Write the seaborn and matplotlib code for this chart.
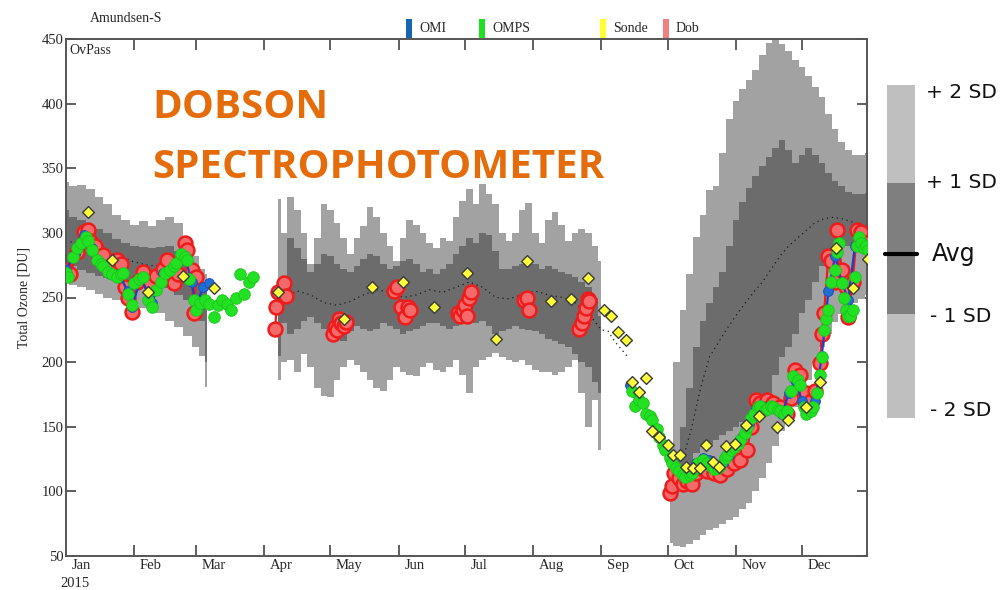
import numpy as np
import pandas as pd
import seaborn as sns
import matplotlib.pyplot as plt
from matplotlib.patches import Rectangle
from matplotlib.lines import Line2D

# ---- climatology bands (day of year, DU) ----
band_days_1 = [1, 4, 8, 12, 16, 20, 24, 28, 32, 36, 40, 44, 48, 52, 56, 60, 63, 65]
hi2_1 = [339, 336, 337, 334, 328, 322, 314, 310, 306, 309, 305, 310, 312, 308, 292, 282, 272, 268]
hi1_1 = [318, 312, 310, 306, 303, 300, 295, 292, 290, 289, 288, 289, 290, 286, 279, 272, 262, 258]
lo1_1 = [277, 274, 271, 269, 267, 265, 264, 263, 262, 261, 261, 260, 257, 252, 248, 242, 232, 200]
lo2_1 = [262, 260, 258, 256, 253, 250, 248, 247, 245, 242, 240, 238, 232, 227, 220, 212, 205, 181]

band_days_2 = np.arange(97, 245, 3)
hi2_2 = [326, 300, 328, 318, 300, 276, 296, 322, 318, 308, 296, 284, 296, 305, 320, 312, 300, 290,
         278, 296, 310, 306, 300, 292, 288, 296, 294, 312, 325, 334, 322, 338, 330, 322, 300, 294,
         300, 318, 323, 300, 292, 310, 316, 306, 294, 300, 303, 300, 290, 278]
hi1_2 = [262, 258, 296, 288, 280, 270, 276, 284, 282, 276, 272, 270, 274, 280, 284, 282, 276, 272,
         274, 278, 280, 276, 270, 272, 268, 272, 276, 284, 290, 296, 292, 300, 298, 286, 272, 272,
         274, 276, 278, 276, 272, 274, 272, 270, 268, 266, 262, 258, 250, 236]
lo1_2 = [205, 230, 222, 226, 232, 235, 230, 226, 222, 218, 216, 224, 228, 226, 224, 226, 230, 228,
         226, 222, 224, 226, 228, 230, 230, 228, 226, 228, 232, 234, 230, 232, 228, 222, 224, 226,
         228, 226, 225, 224, 222, 218, 216, 214, 212, 206, 200, 196, 185, 176]
lo2_2 = [186, 200, 202, 192, 206, 196, 180, 174, 173, 186, 196, 202, 198, 192, 186, 180, 178, 186,
         196, 192, 190, 189, 196, 199, 194, 192, 196, 202, 190, 176, 196, 202, 204, 207, 204, 202,
         200, 202, 198, 194, 192, 192, 190, 192, 196, 202, 176, 150, 171, 132]

band_days_3 = np.arange(275, 366, 3)
hi2_3 = [135, 200, 240, 268, 297, 314, 333, 336, 362, 388, 402, 411, 418, 426, 438, 447,
         449, 446, 441, 434, 428, 421, 413, 405, 392, 380, 370, 364, 360, 360, 362]
hi1_3 = [118, 130, 150, 180, 212, 232, 246, 258, 270, 290, 310, 324, 335, 344, 352, 359,
         366, 372, 364, 354, 360, 366, 360, 354, 346, 340, 336, 332, 330, 330, 331]
lo1_3 = [112, 110, 114, 120, 130, 134, 137, 140, 144, 147, 150, 154, 158, 162, 168, 176,
         190, 204, 212, 222, 238, 248, 262, 274, 282, 288, 291, 290, 288, 287, 287]
lo2_3 = [60, 58, 57, 59, 62, 66, 70, 72, 75, 78, 80, 86, 91, 100, 110, 122,
         135, 147, 156, 165, 176, 186, 199, 212, 222, 231, 237, 242, 246, 249, 252]

avg_days = [3, 10, 17, 24, 31, 38, 45, 52, 59,
            100, 106, 112, 118, 124, 130, 136, 142, 148, 154, 160, 166, 172, 178, 184, 190,
            196, 202, 208, 214, 220, 226, 232, 238, 244, 247, 250, 253, 256,
            281, 285, 289, 293, 297, 301, 305, 309, 313, 317, 321, 325, 329, 333, 337, 341,
            345, 349, 353, 357, 361, 364]
avg_vals = [293, 292, 287, 283, 278, 275, 274, 272, 263,
            250, 255, 252, 246, 244, 247, 252, 256, 254, 250, 252, 256, 254, 258, 262, 258,
            250, 249, 252, 255, 252, 250, 246, 238, 225, 224, 216, 210, 204,
            125, 150, 180, 204, 215, 226, 236, 245, 254, 262, 272, 282, 290, 296, 302, 308,
            311, 312, 311, 309, 306, 304]
avg_seg = [0] * 9 + [1] * 29 + [2] * 22

# ---- Dobson ----
dob_days = [1, 3, 6, 9, 11, 12, 14, 16, 18, 21, 24, 26, 28, 29, 31, 33, 36, 39, 42, 45, 47, 50,
            52, 55, 56, 58, 59, 60,
            96, 96.5, 97, 100, 101,
            122, 123, 124, 125, 126, 127, 128,
            150, 151, 153, 155, 156, 157,
            179, 180, 181, 182, 183, 184, 185,
            209, 210, 211,
            234, 235, 236, 237, 238, 238.5,
            275, 276, 277, 279, 281, 283, 285, 287, 289, 292, 295, 298, 301, 304, 307, 310,
            312, 314, 316, 319, 322, 325, 328, 330, 332, 334, 337, 339, 341, 343, 344, 345,
            347, 348, 350, 351, 353, 355, 356, 358, 360, 362, 364]
dob_vals = [271, 268, 285, 301, 302, 294, 290, 280, 283, 272, 279, 276, 258, 250, 239, 262, 270,
            262, 267, 272, 279, 261, 268, 292, 287, 271, 238, 266,
            226, 243, 254, 261, 251,
            222, 227, 225, 233, 230, 228, 231,
            255, 258, 243, 235, 243, 240,
            238, 236, 240, 244, 236, 250, 254,
            248, 250, 240,
            226, 230, 236, 242, 249, 247,
            99, 104, 114, 110, 106, 108, 106, 114, 118, 116, 114, 113, 117, 122, 124, 132,
            150, 171, 168, 171, 168, 165, 160, 172, 194, 190, 176, 170, 178, 199, 222, 238,
            282, 278, 262, 302, 271, 258, 235, 262, 302, 301, 292]
dob_grp = [0] * 28 + [1] * 5 + [2] * 7 + [3] * 6 + [4] * 7 + [5] * 3 + [6] * 6 + [7] * 43

# ---- OMPS ----
omps_days = [1, 2, 4, 6, 8, 10, 11, 13, 15, 17, 18, 20, 22, 24, 26, 27, 29, 31, 32, 34,
             36, 38, 40, 42, 44, 46, 48, 50, 51, 53, 55, 56, 57, 59, 60, 62, 64, 66, 68, 70,
             72, 74, 76, 78, 80, 82, 84, 86,
             258, 259, 261, 263, 264, 266, 267, 269, 270, 272, 273, 275, 276, 278, 279, 281,
             282, 284, 285, 287, 288, 290, 292, 294, 295, 297, 298, 300, 301, 303, 304, 306,
             307, 309, 310, 312, 313, 315, 316, 318, 319, 321, 322, 324, 325, 327, 328, 330,
             331, 333, 334, 336, 337, 339, 340, 342, 343, 344, 345, 346, 347, 348, 350, 351,
             352, 353, 354, 355, 356, 357, 358, 359, 360, 361, 362, 363, 364, 365]
omps_vals = [269, 266, 281, 288, 292, 297, 294, 287, 279, 276, 274, 270, 268, 266, 268, 269,
             253, 244, 261, 264, 266, 248, 243, 256, 262, 269, 271, 274, 277, 284, 281, 279,
             264, 248, 240, 246, 248, 245, 235, 244, 248, 245, 240, 250, 268, 253, 262, 266,
             178, 166, 171, 168, 160, 158, 155, 148, 142, 136, 132, 126, 122, 118, 116, 113,
             111, 113, 114, 118, 122, 124, 122, 119, 117, 118, 120, 126, 128, 132, 134, 137,
             140, 145, 150, 157, 160, 165, 166, 163, 164, 166, 165, 163, 162, 160, 162, 178,
             189, 186, 182, 165, 160, 162, 165, 176, 190, 204, 225, 233, 240, 262, 271, 285,
             292, 261, 250, 240, 236, 236, 240, 266, 290, 297, 292, 288, 290, 287]

# ---- OMI ----
omi_days = [1, 5, 9, 13, 17, 21, 25, 29, 31, 35, 40, 45, 50, 55, 58, 60, 63, 66] + list(np.arange(257, 366, 3))
omi_vals = [271, 284, 298, 288, 277, 268, 268, 255, 243, 265, 246, 269, 274, 282, 262, 242, 258, 261,
            182, 175, 168, 158, 148, 137, 126, 118, 115, 116, 122, 126, 124, 120, 122, 128, 136,
            142, 152, 164, 166, 165, 164, 160, 176, 186, 170, 164, 170, 205, 255, 282, 262, 248,
            290, 294, 287]
omi_grp = [0] * 18 + [1] * 37

# ---- ozonesondes ----
sonde_days = [11, 22, 38, 54, 68, 97, 127, 140, 154, 168, 183, 196, 210, 221, 230, 238, 245,
              248.5, 251.5, 255, 258, 261, 264, 267, 270, 274, 276.5, 279.5, 282.5, 285.5, 288.5,
              291.5, 294.5, 297.5, 300.5, 304.5, 309.5, 315.5, 323.5, 328.5, 337, 343, 350.5, 358, 365]
sonde_vals = [316, 279, 254, 267, 257, 254, 233, 258, 262, 243, 269, 218, 278, 247, 249, 265, 240,
              236, 223, 217, 185, 177, 188, 147, 142, 136, 128, 128, 119, 118, 118,
              136, 123, 119, 135, 137, 151, 158, 150, 155, 165, 185, 288, 257, 280]

month_names = ['Jan', 'Feb', 'Mar', 'Apr', 'May', 'Jun', 'Jul', 'Aug', 'Sep', 'Oct', 'Nov', 'Dec']
month_starts = [1, 32, 60, 91, 121, 152, 182, 213, 244, 274, 305, 335]

sns.set_style('ticks')
plt.rcParams['font.family'] = ['Liberation Serif', 'DejaVu Serif']

W, H = 1008, 590
fig = plt.figure(figsize=(W / 100, H / 100), dpi=100)
ax = fig.add_axes([66 / W, 1 - 556 / H, 801 / W, 517 / H])

LIGHT = '#a2a2a2'
DARK = '#6c6c6c'
for d, h2, h1, l1, l2 in [(band_days_1, hi2_1, hi1_1, lo1_1, lo2_1),
                          (band_days_2, hi2_2, hi1_2, lo1_2, lo2_2),
                          (band_days_3, hi2_3, hi1_3, lo1_3, lo2_3)]:
    ax.fill_between(d, l2, h2, step='mid', color=LIGHT, lw=0, zorder=1)
    ax.fill_between(d, l1, h1, step='mid', color=DARK, lw=0, zorder=2)

avg_df = pd.DataFrame({'day': avg_days, 'du': avg_vals, 'seg': avg_seg})
sns.lineplot(data=avg_df, x='day', y='du', units='seg', estimator=None, sort=False, ax=ax,
             color='#1a1a1a', lw=0.9, linestyle=(0, (1, 3)), zorder=3)

dob_df = pd.DataFrame({'day': dob_days, 'du': dob_vals, 'grp': dob_grp})
sns.lineplot(data=dob_df, x='day', y='du', units='grp', estimator=None, sort=False, ax=ax,
             color='#ee1c1c', lw=1.6, marker='o', markersize=10, markerfacecolor='#f46a6a',
             markeredgecolor='#ee1c1c', markeredgewidth=1.8, zorder=4)

omi_df = pd.DataFrame({'day': omi_days, 'du': omi_vals, 'grp': omi_grp})
sns.lineplot(data=omi_df, x='day', y='du', units='grp', estimator=None, sort=False, ax=ax,
             color='#1d3fc4', lw=1.6, marker='o', markersize=7, markerfacecolor='#1f6fd0',
             markeredgecolor='#1f4fc0', zorder=5)

sns.scatterplot(x=omps_days, y=omps_vals, ax=ax, color='#22e022', s=70,
                edgecolor='#1cc41c', linewidth=0.6, zorder=6)

sns.scatterplot(x=sonde_days, y=sonde_vals, ax=ax, marker='D', color='#ffff3a', s=36,
                edgecolor='#3a3a3a', linewidth=1.0, zorder=7)

ax.set_xlim(1, 364.5)
ax.set_ylim(50, 450)
ax.set_xticks(month_starts[1:])
ax.set_xticklabels([])
ax.set_yticks(range(50, 451, 50))
ax.tick_params(axis='x', direction='in', length=8, width=1.2, top=True, bottom=True,
               color='#444444', labelbottom=False)
ax.tick_params(axis='y', direction='in', length=7, width=1.2, left=True, right=True,
               color='#444444', labelsize=10.5, pad=2)
for s in ax.spines.values():
    s.set_color('#555555')
    s.set_linewidth(1.4)
ax.set_xlabel('')
ax.set_ylabel('Total Ozone [DU]', fontsize=10, labelpad=8)

for d, name in zip(month_starts, month_names):
    ax.annotate(name, xy=(d, 0), xycoords=('data', 'axes fraction'), xytext=(4, -2),
                textcoords='offset points', ha='left', va='top', fontsize=10.5)
ax.annotate('2015', xy=(1, 0), xycoords=('data', 'axes fraction'), xytext=(-4, -15),
            textcoords='offset points', ha='left', va='top', fontsize=10.5)

fig.text(90 / W, 1 - 18 / H, 'Amundsen-S', fontsize=10, va='center', ha='left')
fig.text(69 / W, 1 - 51 / H, 'OvPass', fontsize=10, va='center', ha='left')

# legend row above the frame
for x0, col, lab in [(406, '#1565b0', 'OMI'), (479, '#21e021', 'OMPS'),
                     (600, '#ffff33', 'Sonde'), (663, '#f08080', 'Dob')]:
    fig.add_artist(Rectangle((x0 / W, 1 - 38 / H), 6 / W, 19 / H, transform=fig.transFigure,
                             color=col, lw=0))
    fig.text((x0 + 13) / W, 1 - 29 / H, lab, fontsize=10, va='center', ha='left')

# big annotation
fig.text(152 / W, 1 - 108 / H, 'DOBSON', family=['Open Sans', 'DejaVu Sans'], weight='bold',
         fontsize=29, color='#e46c0a', va='center', ha='left')
fig.text(152 / W, 1 - 168 / H, 'SPECTROPHOTOMETER', family=['Open Sans', 'DejaVu Sans'],
         weight='bold', fontsize=29, color='#e46c0a', va='center', ha='left')

# SD key on the right
for y_top, y_bot, col in [(85, 183, '#bfbfbf'), (183, 314, '#7f7f7f'), (314, 418, '#bfbfbf')]:
    fig.add_artist(Rectangle((887 / W, 1 - y_bot / H), 28 / W, (y_bot - y_top) / H,
                             transform=fig.transFigure, color=col, lw=0))
fig.add_artist(Line2D([885 / W, 917 / W], [1 - 254 / H, 1 - 254 / H], transform=fig.transFigure,
                      color='black', lw=3))
key_font = ['DejaVu Sans']
for x0, y0, lab, fs in [(926, 92, '+ 2 SD', 14.5), (926, 182, '+ 1 SD', 14.5), (932, 254, 'Avg', 17),
                        (930, 316, '- 1 SD', 14.5), (930, 411, '- 2 SD', 14.5)]:
    fig.text(x0 / W, 1 - y0 / H, lab, family=key_font, fontsize=fs, va='center', ha='left',
             color='#111111')

fig.savefig('out.png', dpi=100)
